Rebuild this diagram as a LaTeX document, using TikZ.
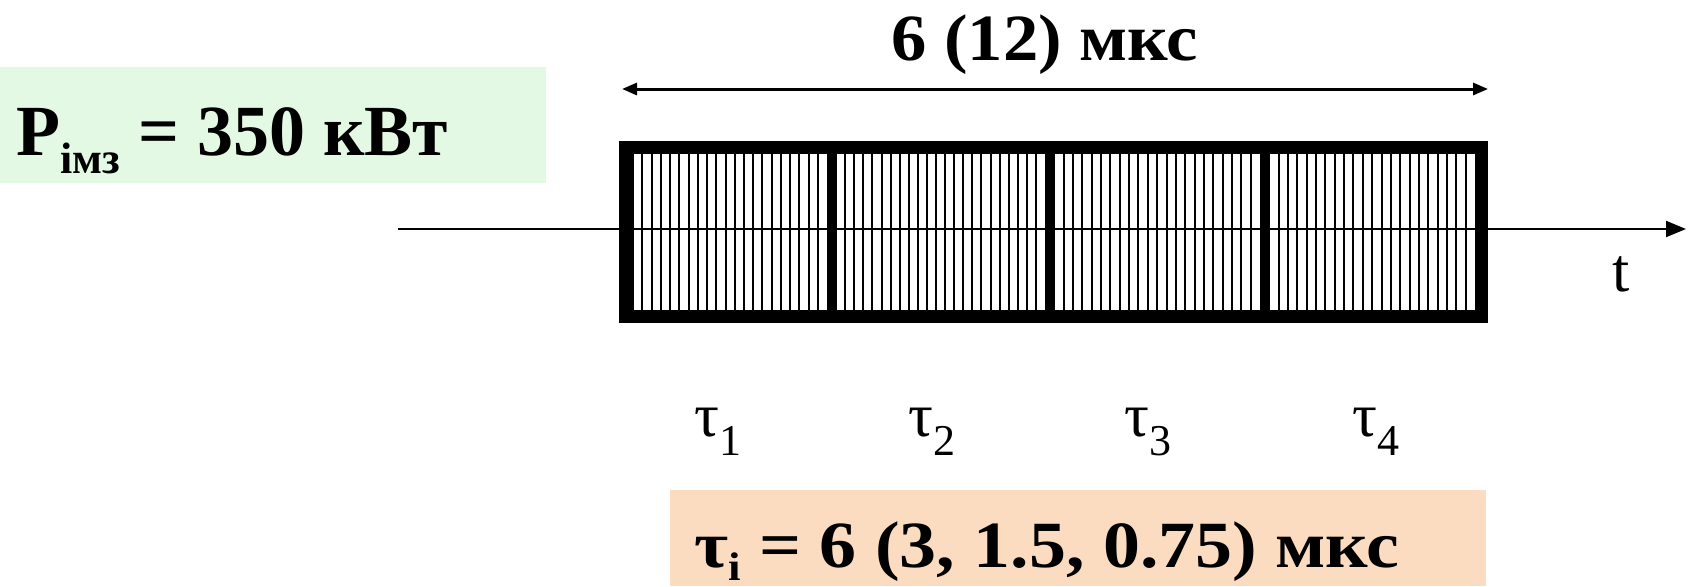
\documentclass[tikz,border=0pt]{standalone}
\usepackage{fontspec}
\setmainfont{Liberation Serif}
\usetikzlibrary{arrows.meta}
\definecolor{mintbg}{HTML}{E4F9E4}
\definecolor{peachbg}{HTML}{FCDCC0}
\tikzset{
  segbox/.style={draw=black,line width=8pt,inner sep=0pt,anchor=north west,minimum height=164pt},
  hatch/.style={line width=2pt},
  boldlbl/.style={inner sep=0pt,font=\fontsize{66}{70}\selectfont\bfseries},
  taulbl/.style={inner sep=0pt,font=\fontsize{62}{66}\selectfont},
}
\newcommand{\tsub}[1]{\raisebox{-0.32em}{\fontsize{44}{48}\selectfont #1}}
\begin{document}
\begin{tikzpicture}[x=1pt,y=-1pt]
\useasboundingbox (0,0) rectangle (1688,586);
% background boxes
\fill[mintbg] (0,67) rectangle (546,183);
\fill[peachbg] (670,490) rectangle (1486,586);
% hatching
\foreach \a/\b in {624/827,827/1045,1045/1260,1260/1475}{
  \pgfmathsetmacro{\n}{int((\b-\a)/9)}
  \pgfmathsetmacro{\d}{(\b-\a)/\n}
  \foreach \k in {1,...,\n}{
    \ifnum\k<\n
      \draw[hatch] ({\a+\k*\d},146) -- ({\a+\k*\d},310);
    \fi
  }
}
% time axis
\coordinate (ax0) at (398,229);
\coordinate (ax1) at (1686,229);
\draw[line width=2pt,-{Triangle[length=20pt,width=16pt]}] (ax0) -- (ax1);
% pulse frame segments
\node[segbox,minimum width=203pt] (s1) at (624,146) {};
\node[segbox,minimum width=218pt] (s2) at (827,146) {};
\node[segbox,minimum width=215pt] (s3) at (1045,146) {};
\node[segbox,minimum width=215pt] (s4) at (1260,146) {};
\draw[line width=10pt] (s1.north west) rectangle (s4.south east);
% duration arrow
\coordinate (d0) at (622,89);
\coordinate (d1) at (1488,89);
\draw[line width=3pt,{Triangle[length=15pt,width=12pt]}-{Triangle[length=15pt,width=12pt]}] (d0) -- (d1);
\node[boldlbl,anchor=base west] (dur) at (891,60) {\scalebox{1.07}[1]{6 (12) мкс}};
% labels
\node[boldlbl,anchor=base west,font=\fontsize{72}{76}\selectfont\bfseries] (pw) at (16,155) {P\raisebox{-18pt}{\fontsize{44}{46}\selectfont\bfseries імз} = 350 кВт};
\node[taulbl,anchor=base west] (t) at (1612,291) {t};
\node[taulbl,anchor=base west] (tau1) at (694,436) {τ\tsub{1}};
\node[taulbl,anchor=base west] (tau2) at (908,436) {τ\tsub{2}};
\node[taulbl,anchor=base west] (tau3) at (1124,436) {τ\tsub{3}};
\node[taulbl,anchor=base west] (tau4) at (1352,436) {τ\tsub{4}};
\node[boldlbl,anchor=base west] (ti) at (694,567) {\scalebox{1.12}[1]{τ\raisebox{-13pt}{\fontsize{40}{44}\selectfont\bfseries i} = 6 (3, 1.5, 0.75) мкс}};
\end{tikzpicture}
\end{document}
